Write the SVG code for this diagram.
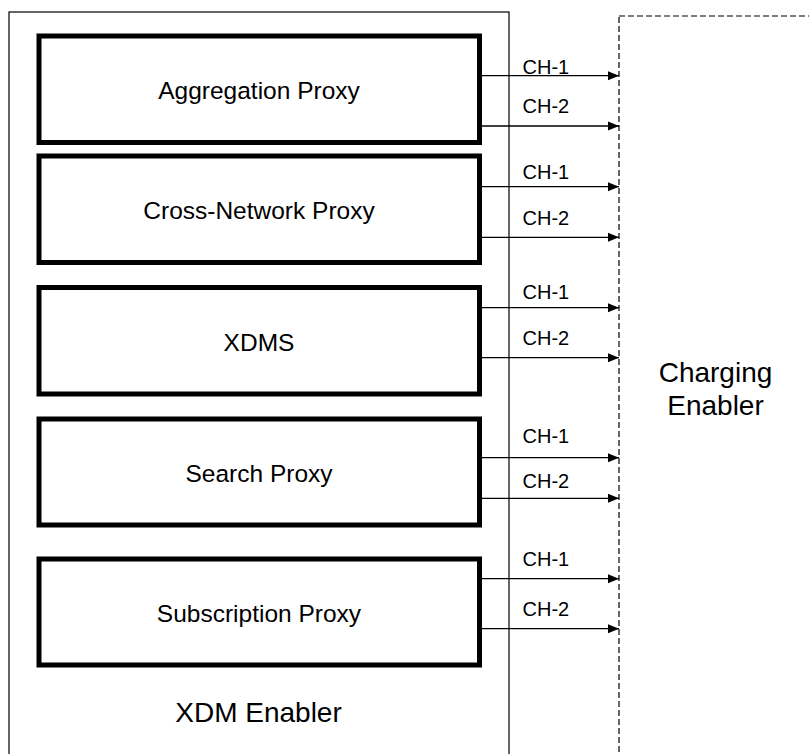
<svg xmlns="http://www.w3.org/2000/svg" width="809" height="754" viewBox="0 0 809 754">
<style>
.box{fill:#fff;stroke:#000;stroke-width:5}
.lbl{font-family:"Liberation Sans",Arial,sans-serif;font-size:24.5px;fill:#000;text-anchor:middle}
.big{font-family:"Liberation Sans",Arial,sans-serif;font-size:28px;fill:#000;text-anchor:middle}
.ch{font-family:"Liberation Sans",Arial,sans-serif;font-size:20px;fill:#000}
.arr{stroke:#000;stroke-width:1.3;fill:none;marker-end:url(#ah)}
</style>
<defs>
<marker id="ah" markerUnits="userSpaceOnUse" markerWidth="12" markerHeight="10" refX="11" refY="5" orient="auto">
<path d="M0,0.5 L11,5 L0,9.5 Z" fill="#000"/>
</marker>
</defs>
<g id="xdm-enabler">
<rect x="9" y="12" width="500" height="760" fill="#fff" stroke="#000" stroke-width="1.2"/>
<text class="big" x="258.5" y="722">XDM Enabler</text>
</g>
<g id="charging-enabler">
<rect x="619" y="16" width="220" height="760" fill="none" stroke="#000" stroke-width="1.2" stroke-dasharray="6,3"/>
<text class="big" x="715.5" y="381.5">Charging</text>
<text class="big" x="715.5" y="414.5">Enabler</text>
</g>
<g id="aggregation-proxy">
<rect class="box" x="39" y="36" width="440.5" height="106.5"/>
<text class="lbl" x="259" y="99">Aggregation Proxy</text>
</g>
<g id="cross-network-proxy">
<rect class="box" x="39" y="156" width="440.5" height="106.5"/>
<text class="lbl" x="259" y="219">Cross-Network Proxy</text>
</g>
<g id="xdms">
<rect class="box" x="39" y="287.5" width="440.5" height="106.5"/>
<text class="lbl" x="259" y="350.5">XDMS</text>
</g>
<g id="search-proxy">
<rect class="box" x="39" y="419" width="440.5" height="106"/>
<text class="lbl" x="259" y="482">Search Proxy</text>
</g>
<g id="subscription-proxy">
<rect class="box" x="39" y="559" width="440.5" height="106"/>
<text class="lbl" x="259" y="622">Subscription Proxy</text>
</g>
<g id="connectors">
<line class="arr" x1="482" y1="75.7" x2="619" y2="75.7"/>
<line class="arr" x1="482" y1="126" x2="619" y2="126"/>
<line class="arr" x1="482" y1="186.7" x2="619" y2="186.7"/>
<line class="arr" x1="482" y1="237.3" x2="619" y2="237.3"/>
<line class="arr" x1="482" y1="307.7" x2="619" y2="307.7"/>
<line class="arr" x1="482" y1="357.7" x2="619" y2="357.7"/>
<line class="arr" x1="482" y1="457.7" x2="619" y2="457.7"/>
<line class="arr" x1="482" y1="498.3" x2="619" y2="498.3"/>
<line class="arr" x1="482" y1="578.7" x2="619" y2="578.7"/>
<line class="arr" x1="482" y1="628.7" x2="619" y2="628.7"/>
<text class="ch" x="522.5" y="74">CH-1</text>
<text class="ch" x="522.5" y="113.3">CH-2</text>
<text class="ch" x="522.5" y="179.3">CH-1</text>
<text class="ch" x="522.5" y="225">CH-2</text>
<text class="ch" x="522.5" y="299.3">CH-1</text>
<text class="ch" x="522.5" y="345">CH-2</text>
<text class="ch" x="522.5" y="443.3">CH-1</text>
<text class="ch" x="522.5" y="488.3">CH-2</text>
<text class="ch" x="522.5" y="566">CH-1</text>
<text class="ch" x="522.5" y="616">CH-2</text>
</g>
</svg>
